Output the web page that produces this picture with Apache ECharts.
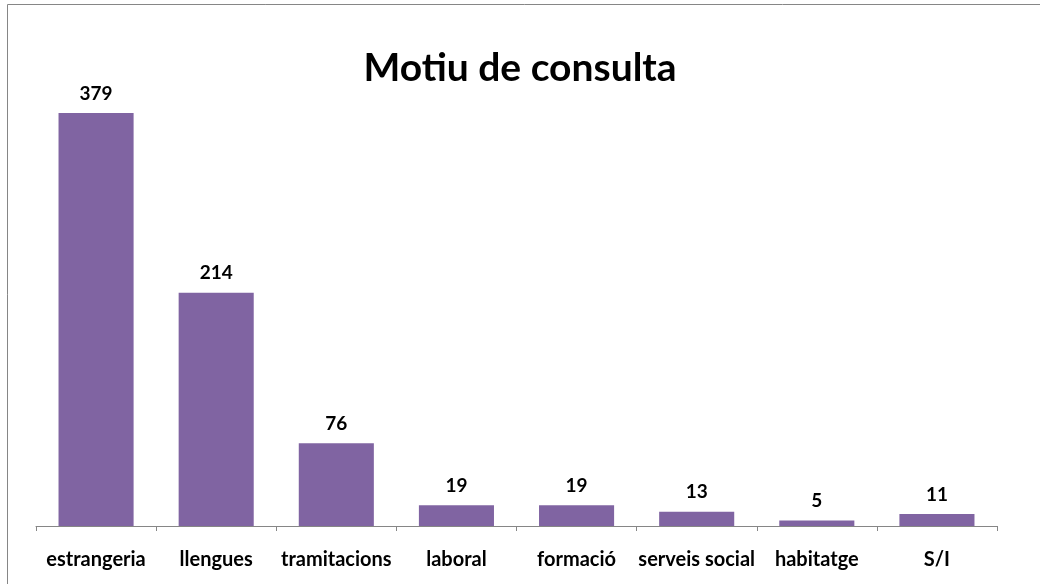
<!DOCTYPE html>
<html>
<head>
<meta charset="utf-8">
<script src="https://cdn.jsdelivr.net/npm/echarts@6/dist/echarts.min.js"></script>
<style>
  html, body { margin: 0; padding: 0; background: #fff; }
  #chart { width: 1040px; height: 584px; }
</style>
</head>
<body>
<div id="chart"></div>
<script>
const categories = ['estrangeria', 'llengues', 'tramitacions', 'laboral', 'formació', 'serveis social', 'habitatge', 'S/I']
const counts = [379, 214, 76, 19, 19, 13, 5, 11]

const chart = echarts.init(document.getElementById('chart'))

chart.setOption({
  animation: false,
  textStyle: { fontFamily: 'Lato' },
  title: {
    text: 'Motiu de consulta',
    left: 'center',
    top: 44,
    textStyle: {
      fontFamily: 'Lato',
      fontSize: 39,
      fontWeight: 'bold',
      color: '#000',
    },
  },
  graphic: [
    {
      type: 'rect',
      shape: { x: 7.5, y: 4.5, width: 1200, height: 800 },
      style: { fill: 'none', stroke: '#868686', lineWidth: 1 },
      silent: true,
    },
  ],
  grid: {
    left: 36,
    right: 43,
    top: 90,
    bottom: 58,
  },
  xAxis: {
    type: 'category',
    data: categories,
    axisLine: { lineStyle: { color: '#868686', width: 1 } },
    axisTick: { show: true, length: 5, lineStyle: { color: '#868686' } },
    axisLabel: {
      interval: 0,
      margin: 24,
      color: '#000',
      fontFamily: 'Lato',
      fontWeight: 'bold',
      fontSize: 20,
    },
  },
  yAxis: {
    type: 'value',
    min: 0,
    max: 400,
    show: false,
    splitLine: { show: false },
  },
  series: [
    {
      type: 'bar',
      data: counts,
      barWidth: '62.5%',
      itemStyle: { color: '#8064A2' },
      label: {
        show: true,
        position: 'top',
        distance: 10,
        color: '#000',
        fontFamily: 'Lato',
        fontWeight: 'bold',
        fontSize: 19,
      },
    },
  ],
})
</script>
</body>
</html>
